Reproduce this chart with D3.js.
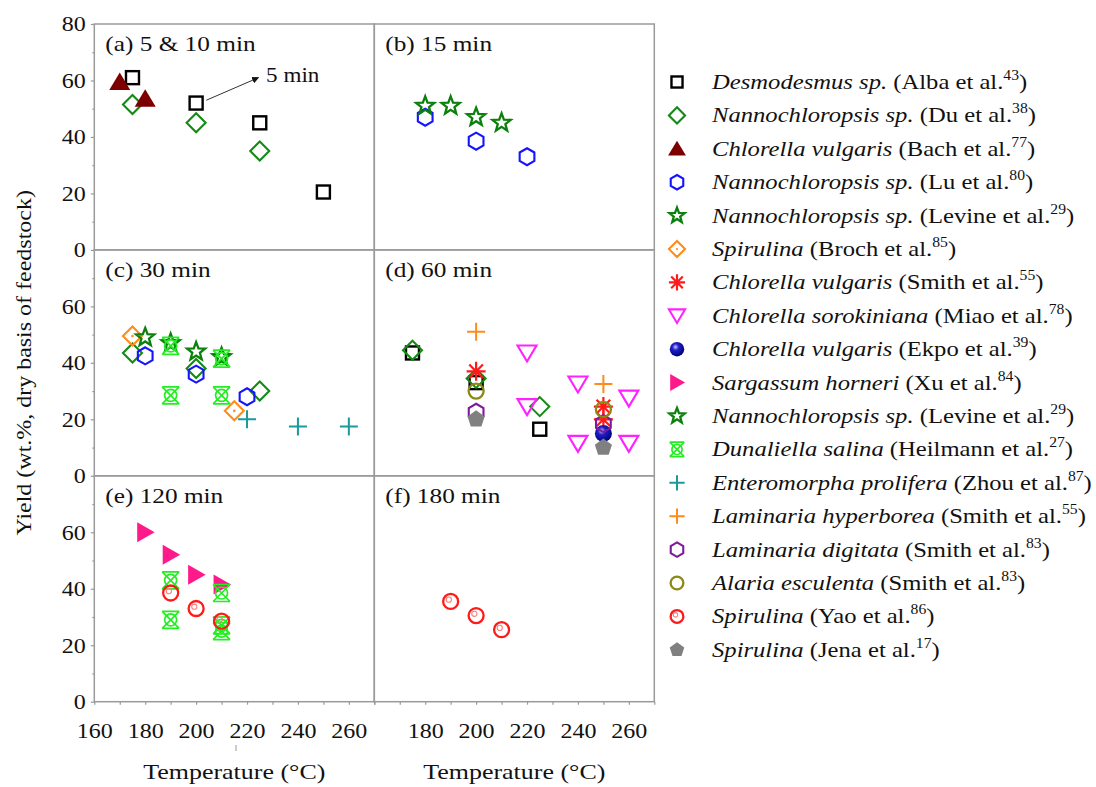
<!DOCTYPE html>
<html>
<head>
<meta charset="utf-8">
<script src="https://cdn.jsdelivr.net/npm/d3@7/dist/d3.min.js"></script>
<style>
  html, body { margin: 0; padding: 0; background: #fff; }
  svg { display: block; }
  text { font-family: "Liberation Serif", "Times New Roman", serif; fill: #111; }
</style>
</head>
<body>
<svg id="chart" width="1096" height="787"></svg>
<script>
// Bio-crude yield vs. temperature, grouped by holding time (panels a–f).
// Each point: [panel, temperature °C, yield wt.%]
const albaDesmodesmus   = [["a",175,61],["a",200,52],["a",225,45],["a",250,20.5],["d",175,43.5],["d",200,33],["d",225,16.5]];
const duNanno           = [["a",175,51.5],["a",200,45],["a",225,35],["c",175,43.5],["c",200,38],["c",225,30],["d",175,44.5],["d",200,34.5],["d",225,24.5]];
const bachChlorella     = [["a",170,59.5],["a",180,53.5]];
const luNanno           = [["b",180,47],["b",200,38.5],["b",220,33],["c",180,42.5],["c",200,36],["c",220,28]];
const levineNanno15     = [["b",180,51],["b",190,51],["b",200,47],["b",210,45]];
const brochSpirulina    = [["c",175,49.5],["c",215,23]];
const smithChlorella    = [["d",200,37],["d",250,24.5],["d",250,20]];
const miaoSorokiniana   = [["d",220,43.5],["d",220,24.5],["d",240,32.5],["d",240,11.5],["d",260,27.5],["d",260,11.5]];
const ekpoChlorella     = [["d",250,15]];
const xuSargassum       = [["e",180,60],["e",190,52],["e",200,45],["e",210,41.5]];
const levineNanno30     = [["c",180,49],["c",190,47],["c",200,44],["c",210,42]];
const heilmannDunaliella= [["c",190,46],["c",190,28.5],["c",210,41.5],["c",210,28.5],["e",190,43],["e",190,29],["e",210,38.5],["e",210,27],["e",210,25]];
const zhouEnteromorpha  = [["c",220,20],["c",240,17.5],["c",260,17.5]];
const smithHyperborea   = [["d",200,51],["d",250,32.5]];
const smithDigitata     = [["d",200,22.5],["d",250,18.5]];
const smithAlaria       = [["d",200,30],["d",250,23.5]];
const yaoSpirulina      = [["e",190,38.5],["e",200,33],["e",210,28.5],["f",190,35.5],["f",200,30.5],["f",210,25.5]];
const jenaSpirulina     = [["d",200,20],["d",250,10]];

const panelTitles = { a: "(a) 5 & 10 min", b: "(b) 15 min", c: "(c) 30 min", d: "(d) 60 min", e: "(e) 120 min", f: "(f) 180 min" };
const yTicksMajor = [0, 20, 40, 60, 80];
const xTicksLeft  = [160, 180, 200, 220, 240, 260];
const xTicksRight = [180, 200, 220, 240, 260];

const series = [
  { sp: "Desmodesmus sp.",        ref: "Alba et al.",     n: "43", data: albaDesmodesmus,    sym: "square",   color: "#000000" },
  { sp: "Nannochloropsis sp.",    ref: "Du et al.",       n: "38", data: duNanno,            sym: "diamond",  color: "#148a14" },
  { sp: "Chlorella vulgaris",     ref: "Bach et al.",     n: "77", data: bachChlorella,      sym: "triUp",    color: "#7d0000" },
  { sp: "Nannochloropsis sp.",    ref: "Lu et al.",       n: "80", data: luNanno,            sym: "hexagon",  color: "#1414ff" },
  { sp: "Nannochloropsis sp.",    ref: "Levine et al.",   n: "29", data: levineNanno15,      sym: "star",     color: "#0c800c" },
  { sp: "Spirulina",              ref: "Broch et al.",    n: "85", data: brochSpirulina,     sym: "diamondDot", color: "#ff8c1a" },
  { sp: "Chlorella vulgaris",     ref: "Smith et al.",    n: "55", data: smithChlorella,     sym: "asterisk", color: "#ff1a1a" },
  { sp: "Chlorella sorokiniana",  ref: "Miao et al.",     n: "78", data: miaoSorokiniana,    sym: "triDown",  color: "#ff22ff" },
  { sp: "Chlorella vulgaris",     ref: "Ekpo et al.",     n: "39", data: ekpoChlorella,      sym: "ball",     color: "#0000a0" },
  { sp: "Sargassum horneri",      ref: "Xu et al.",       n: "84", data: xuSargassum,        sym: "triRight", color: "#ff1a8c" },
  { sp: "Nannochloropsis sp.",    ref: "Levine et al.",   n: "29", data: levineNanno30,      sym: "star",     color: "#0c800c" },
  { sp: "Dunaliella salina",      ref: "Heilmann et al.", n: "27", data: heilmannDunaliella, sym: "crossCircle", color: "#22ee22" },
  { sp: "Enteromorpha prolifera", ref: "Zhou et al.",     n: "87", data: zhouEnteromorpha,   sym: "plus",     color: "#1a9a9a" },
  { sp: "Laminaria hyperborea",   ref: "Smith et al.",    n: "55", data: smithHyperborea,    sym: "plus",     color: "#ff8c1a" },
  { sp: "Laminaria digitata",     ref: "Smith et al.",    n: "83", data: smithDigitata,      sym: "hexagon",  color: "#7f1a9a" },
  { sp: "Alaria esculenta",       ref: "Smith et al.",    n: "83", data: smithAlaria,        sym: "circle",   color: "#8a8a14" },
  { sp: "Spirulina",              ref: "Yao et al.",      n: "86", data: yaoSpirulina,       sym: "ringDot",  color: "#ff1a1a" },
  { sp: "Spirulina",              ref: "Jena et al.",     n: "17", data: jenaSpirulina,      sym: "pentagon", color: "#808080" }
];

const svg = d3.select("#chart");
const defs = svg.append("defs");
const ballGrad = defs.append("radialGradient").attr("id", "ballGrad")
  .attr("cx", "40%").attr("cy", "35%").attr("r", "65%");
ballGrad.append("stop").attr("offset", "0%").attr("stop-color", "#c8c8ff");
ballGrad.append("stop").attr("offset", "35%").attr("stop-color", "#2020c8");
ballGrad.append("stop").attr("offset", "100%").attr("stop-color", "#00007a");

// Widen text horizontally (wide serif lettering) around its anchor point
function stretch(sel, sx) {
  sel.each(function () {
    const t = d3.select(this);
    const x = +t.attr("x") || 0, y = +t.attr("y") || 0;
    t.attr("x", null).attr("y", null)
      .attr("transform", `translate(${x},${y}) scale(${sx},1)`);
  });
}

// Panel layout
const plotLeft = 94.3, colWidth = 280, plotTop = 24, rowHeight = 225.9;
const panelPos = { a: [0,0], b: [1,0], c: [0,1], d: [1,1], e: [0,2], f: [1,2] };
const xScales = [0,1].map(c => d3.scaleLinear().domain([160,270]).range([plotLeft + c*colWidth, plotLeft + (c+1)*colWidth]));
const yScales = [0,1,2].map(r => d3.scaleLinear().domain([0,80]).range([plotTop + (r+1)*rowHeight, plotTop + r*rowHeight]));

const frameColor = "#9a9a9a";

// Axes (left side and bottom) built from D3 axis generators
[0,1,2].forEach(r => {
  const ax = svg.append("g").attr("transform", `translate(${plotLeft},0)`);
  const vals = r === 0 ? yTicksMajor : yTicksMajor.slice(0, 4);
  ax.call(d3.axisLeft(yScales[r]).tickValues(vals).tickSize(3.5).tickPadding(5).tickFormat(d3.format("d")));
  const minor = svg.append("g").attr("transform", `translate(${plotLeft},0)`);
  minor.call(d3.axisLeft(yScales[r]).tickValues([10,30,50,70]).tickSize(2).tickFormat(""));
  [ax, minor].forEach(g => {
    g.select(".domain").remove();
    g.selectAll("line").attr("stroke", frameColor).attr("stroke-width", 1.2);
  });
  const tx = ax.selectAll("text").attr("font-size", 20).attr("fill", "#111")
    .style("font-family", '"Liberation Serif", serif').attr("dy", "0.34em");
  stretch(tx, 1.2);
});

[0,1].forEach(c => {
  const y0 = plotTop + 3*rowHeight;
  const ax = svg.append("g").attr("transform", `translate(0,${y0})`);
  ax.call(d3.axisBottom(xScales[c]).tickValues(d3.range(160, 271, 10)).tickSize(3).tickFormat(""));
  ax.select(".domain").remove();
  ax.selectAll("line").attr("stroke", frameColor).attr("stroke-width", 1.2);
  const lab = svg.append("g").attr("transform", `translate(0,${y0})`);
  lab.call(d3.axisBottom(xScales[c]).tickValues(c === 0 ? xTicksLeft : xTicksRight).tickSize(0).tickPadding(22).tickFormat(d3.format("d")));
  lab.select(".domain").remove();
  const tx = lab.selectAll("text").attr("font-size", 20).attr("fill", "#111")
    .style("font-family", '"Liberation Serif", serif').attr("dy", "0.71em");
  stretch(tx, 1.2);
  const title = svg.append("text")
    .attr("x", (xScales[c].range()[0] + xScales[c].range()[1]) / 2)
    .attr("y", 779).attr("text-anchor", "middle").attr("font-size", 22)
    .text("Temperature (°C)");
  stretch(title, 1.18);
});

// small stray tick under the 220 label
svg.append("line").attr("x1", 236).attr("x2", 236).attr("y1", 745).attr("y2", 751)
  .attr("stroke", "#999").attr("stroke-width", 1);

svg.append("text")
  .attr("transform", `translate(31,${plotTop + 1.5*rowHeight}) rotate(-90) scale(1.09,1)`)
  .attr("text-anchor", "middle").attr("font-size", 22)
  .text("Yield (wt.%, dry basis of feedstock)");

// Panel frames
Object.entries(panelPos).forEach(([k, [c, r]]) => {
  const x0 = xScales[c].range()[0], x1 = xScales[c].range()[1];
  const y0 = yScales[r].range()[1], y1 = yScales[r].range()[0];
  svg.append("rect").attr("x", x0).attr("y", y0).attr("width", x1 - x0).attr("height", y1 - y0)
    .attr("fill", "none").attr("stroke", frameColor).attr("stroke-width", 1.5);
  const tt = svg.append("text").attr("x", x0 + 11).attr("y", y0 + 27).attr("font-size", 22).text(panelTitles[k]);
  stretch(tt, 1.15);
});

// Marker drawing
function poly(pts) { return "M" + pts.map(p => p[0].toFixed(2) + "," + p[1].toFixed(2)).join("L") + "Z"; }
function regular(n, r, rot) {
  return d3.range(n).map(i => { const a = rot + i * 2 * Math.PI / n; return [r * Math.cos(a), r * Math.sin(a)]; });
}
function drawMarker(g, sym, color, k) {
  const sw = 2.1;
  switch (sym) {
    case "square":
      g.append("rect").attr("x", -6.5*k).attr("y", -6.5*k).attr("width", 13*k).attr("height", 13*k)
        .attr("fill", "#fff").attr("stroke", color).attr("stroke-width", 2.4);
      break;
    case "diamond":
      g.append("path").attr("d", poly([[0,-9.5*k],[9.5*k,0],[0,9.5*k],[-9.5*k,0]]))
        .attr("fill", "none").attr("stroke", color).attr("stroke-width", sw);
      break;
    case "diamondDot":
      g.append("path").attr("d", poly([[0,-9.5*k],[9.5*k,0],[0,9.5*k],[-9.5*k,0]]))
        .attr("fill", "none").attr("stroke", color).attr("stroke-width", sw);
      g.append("circle").attr("r", 1.3*k).attr("fill", color);
      break;
    case "triUp":
      g.append("path").attr("d", poly([[0,-9.5*k],[10.5*k,8*k],[-10.5*k,8*k]])).attr("fill", color);
      break;
    case "triDown":
      g.append("path").attr("d", poly([[-9.5*k,-7.5*k],[9.5*k,-7.5*k],[0,8.5*k]]))
        .attr("fill", "none").attr("stroke", color).attr("stroke-width", sw);
      break;
    case "triRight":
      g.append("path").attr("d", poly([[-8*k,-10*k],[9.5*k,0],[-8*k,10*k]])).attr("fill", color);
      break;
    case "hexagon":
      g.append("path").attr("d", poly(regular(6, 8.5*k, -Math.PI/2)))
        .attr("fill", "none").attr("stroke", color).attr("stroke-width", sw);
      break;
    case "pentagon":
      g.append("path").attr("d", poly(regular(5, 9*k, -Math.PI/2))).attr("fill", color);
      break;
    case "star": {
      const pts = d3.range(10).map(i => {
        const r = (i % 2 === 0 ? 9.5 : 4) * k, a = -Math.PI/2 + i * Math.PI / 5;
        return [r * Math.cos(a), r * Math.sin(a)];
      });
      g.append("path").attr("d", poly(pts)).attr("fill", "none").attr("stroke", color).attr("stroke-width", 2.3);
      break;
    }
    case "asterisk": {
      const r = 9.5*k, d = r * 0.72;
      g.append("path").attr("d", `M0,${-r}V${r}M${-r},0H${r}M${-d},${-d}L${d},${d}M${-d},${d}L${d},${-d}`)
        .attr("stroke", color).attr("stroke-width", 2.2).attr("fill", "none");
      break;
    }
    case "plus": {
      const r = 9*k;
      g.append("path").attr("d", `M0,${-r}V${r}M${-r},0H${r}`)
        .attr("stroke", color).attr("stroke-width", 2).attr("fill", "none");
      break;
    }
    case "circle":
      g.append("circle").attr("r", 7.5*k).attr("fill", "none").attr("stroke", color).attr("stroke-width", 2.3);
      break;
    case "ringDot":
      g.append("circle").attr("r", 7.5*k).attr("fill", "none").attr("stroke", color).attr("stroke-width", 2.3);
      g.append("circle").attr("cx", -1.8*k).attr("cy", -1.8*k).attr("r", 2.6*k)
        .attr("fill", "none").attr("stroke", "#ff8080").attr("stroke-width", 1.1);
      break;
    case "ball":
      g.append("circle").attr("r", 8.5*k).attr("fill", "url(#ballGrad)");
      break;
    case "crossCircle": {
      const r = 8.5*k;
      g.append("path").attr("d", `M${-r},${-r}H${r}M${-r},${r}H${r}M${-r},${-r}L${r},${r}M${-r},${r}L${r},${-r}`)
        .attr("stroke", color).attr("stroke-width", 1.7).attr("fill", "none");
      g.append("circle").attr("r", 6*k).attr("fill", "none").attr("stroke", color).attr("stroke-width", 1.7);
      break;
    }
  }
}

// Data points
series.forEach(s => {
  s.data.forEach(([p, t, v]) => {
    const [c, r] = panelPos[p];
    const g = svg.append("g").attr("transform", `translate(${xScales[c](t)},${yScales[r](v)})`);
    drawMarker(g, s.sym, s.color, 1);
  });
});

// "5 min" annotation with arrow in panel (a)
const ax0 = xScales[0], ay0 = yScales[0];
defs.append("marker").attr("id", "arrowHead").attr("viewBox", "0 0 10 10").attr("refX", 9).attr("refY", 5)
  .attr("markerWidth", 7).attr("markerHeight", 7).attr("orient", "auto")
  .append("path").attr("d", "M0,0L10,5L0,10Z").attr("fill", "#111");
svg.append("line")
  .attr("x1", ax0(204)).attr("y1", ay0(53))
  .attr("x2", ax0(224.5)).attr("y2", ay0(61))
  .attr("stroke", "#333").attr("stroke-width", 1).attr("marker-end", "url(#arrowHead)");
const fiveMin = svg.append("text").attr("x", ax0(227.5)).attr("y", 82).attr("font-size", 21).text("5 min");
stretch(fiveMin, 1.1);

// Legend
const legX = 677, legTextX = 712, legY0 = 82, legStep = 33.4;
series.forEach((s, i) => {
  const y = legY0 + i * legStep;
  const g = svg.append("g").attr("transform", `translate(${legX},${y})`);
  drawMarker(g, s.sym, s.color, 0.85);
  const t = svg.append("text").attr("x", legTextX).attr("y", y + 7).attr("font-size", 22);
  t.append("tspan").attr("font-style", "italic").text(s.sp);
  t.append("tspan").text(" (" + s.ref);
  t.append("tspan").attr("font-size", 14).attr("dy", -9).text(s.n);
  t.append("tspan").attr("dy", 9).text(")");
  stretch(t, 1.12);
});
</script>
</body>
</html>
